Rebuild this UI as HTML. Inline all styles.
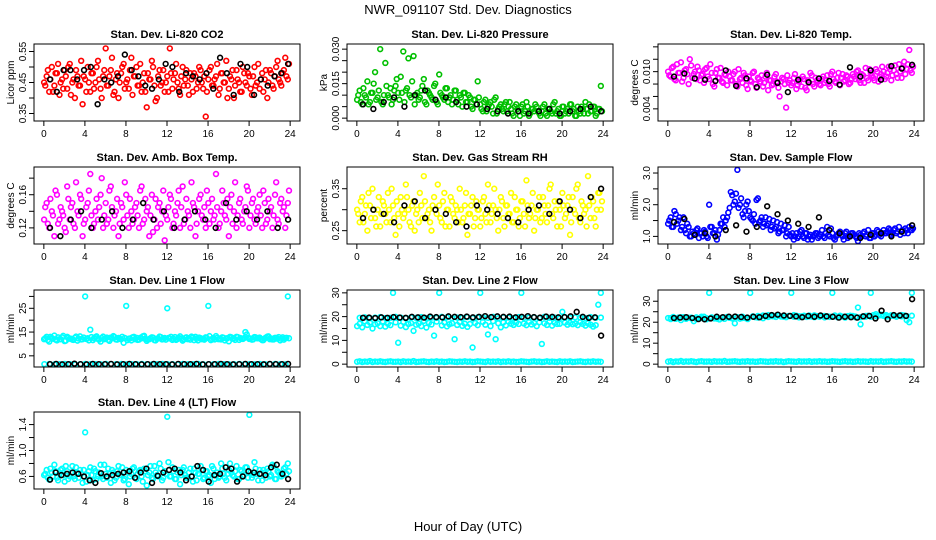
<!DOCTYPE html>
<html><head><meta charset="utf-8"><style>
body{margin:0;background:#fff;}
svg{display:block;font-family:"Liberation Sans",Arial,sans-serif;}
</style></head><body>
<svg id="c" width="936" height="540" viewBox="0 0 936 540">
<text x="468" y="14" text-anchor="middle" font-size="13">NWR_091107  Std. Dev. Diagnostics</text>
<text x="468" y="531" text-anchor="middle" font-size="13">Hour of Day (UTC)</text>
</svg>
<script>
const xTicks=[0,4,8,12,16,20,24];
const co2Color=[0.45,0.47,0.42,0.50,0.44,0.48,0.41,0.46,0.49,0.43,0.51,0.45,0.40,0.47,0.44,0.38,0.46,0.50,0.42,0.48,0.45,0.52,0.43,0.47,0.56,0.44,0.49,0.41,0.46,0.40,0.48,0.51,0.45,0.43,0.53,0.47,0.50,0.44,0.42,0.48,0.37,0.46,0.52,0.44,0.40,0.49,0.45,0.42,0.47,0.56,0.43,0.48,0.45,0.41,0.50,0.46,0.44,0.48,0.42,0.47,0.45,0.49,0.43,0.34,0.46,0.50,0.44,0.47,0.41,0.48,0.45,0.52,0.43,0.46,0.40,0.49,0.45,0.42,0.48,0.44,0.47,0.41,0.50,0.45,0.43,0.48,0.46,0.40,0.49,0.44,0.47,0.52,0.45,0.48,0.53,0.46];
const co2ColorB=[0.44,0.49,0.46,0.42,0.48,0.51,0.45,0.43,0.47,0.50,0.41,0.46,0.49,0.44,0.52,0.47,0.42,0.45,0.48,0.43,0.50,0.46,0.40,0.49,0.44,0.47,0.53,0.42,0.48,0.45,0.50,0.43,0.46,0.49,0.41,0.47,0.44,0.51,0.45,0.42,0.48,0.46,0.50,0.39,0.47,0.44,0.49,0.45,0.42,0.48,0.46,0.51,0.43,0.47,0.44,0.49,0.41,0.46,0.48,0.43,0.50,0.45,0.47,0.42,0.49,0.44,0.46,0.51,0.43,0.48,0.45,0.40,0.47,0.49,0.44,0.46,0.42,0.50,0.45,0.48,0.43,0.47,0.44,0.51,0.46,0.42,0.49,0.45,0.48,0.43,0.50,0.46,0.44,0.49,0.47,0.51];
const co2Black=[0.46,0.42,0.49,0.49,0.46,0.49,0.50,0.38,0.46,0.45,0.47,0.54,0.49,0.47,0.44,0.43,0.46,0.51,0.50,0.42,0.48,0.47,0.46,0.48,0.43,0.53,0.48,0.41,0.51,0.50,0.41,0.46,0.44,0.47,0.48,0.51];
const presColor=[.008,.012,.006,.010,.016,.007,.011,.020,.009,.030,.006,.024,.010,.013,.008,.014,.011,.018,.029,.012,.026,.009,.027,.010,.008,.012,.017,.006,.011,.009,.014,.007,.019,.010,.008,.013,.009,.006,.012,.008,.010,.005,.011,.007,.009,.004,.008,.016,.006,.003,.008,.005,.007,.002,.009,.004,.006,.003,.007,.005,.004,.001,.006,.003,.005,.002,.007,.001,.004,.003,.005,.002,.003,.006,.001,.004,.002,.007,.003,.001,.005,.002,.004,.006,.003,.001,.005,.002,.004,.007,.002,.003,.005,.001,.004,.014];
const presColorB=[.010,.007,.013,.009,.006,.011,.015,.008,.012,.007,.010,.014,.009,.006,.012,.017,.008,.011,.007,.013,.010,.016,.006,.011,.009,.014,.007,.012,.010,.008,.015,.006,.011,.009,.013,.007,.010,.008,.012,.006,.009,.011,.007,.010,.005,.008,.006,.009,.004,.007,.003,.006,.005,.008,.002,.005,.004,.006,.003,.007,.002,.005,.004,.001,.006,.003,.005,.002,.004,.006,.003,.001,.005,.002,.004,.003,.006,.002,.004,.001,.005,.003,.002,.006,.004,.001,.003,.005,.002,.004,.006,.003,.005,.002,.004,.003];
const presBlack=[.006,.004,.007,.009,.005,.010,.012,.008,.009,.007,.005,.006,.004,.003,.002,.003,.002,.003,.004,.002,.003,.004,.005,.003];
const tempColor=[.0100,.0092,.0108,.0086,.0098,.0115,.0090,.0104,.0080,.0110,.0096,.0088,.0102,.0094,.0082,.0106,.0088,.0098,.0076,.0104,.0090,.0084,.0096,.0078,.0092,.0086,.0100,.0076,.0088,.0082,.0094,.0072,.0086,.0098,.0080,.0090,.0084,.0076,.0092,.0070,.0086,.0080,.0096,.0074,.0084,.0088,.0042,.0082,.0078,.0090,.0072,.0084,.0076,.0088,.0070,.0082,.0094,.0076,.0086,.0080,.0088,.0082,.0094,.0076,.0100,.0084,.0090,.0078,.0096,.0086,.0092,.0082,.0096,.0088,.0102,.0082,.0094,.0106,.0086,.0098,.0090,.0104,.0084,.0096,.0100,.0092,.0108,.0086,.0102,.0096,.0112,.0090,.0116,.0104,.0135,.0098];
const tempColorB=[.0094,.0106,.0088,.0112,.0098,.0084,.0102,.0096,.0120,.0090,.0100,.0108,.0086,.0096,.0104,.0092,.0112,.0080,.0098,.0090,.0106,.0082,.0094,.0100,.0086,.0096,.0080,.0104,.0090,.0098,.0078,.0092,.0084,.0100,.0074,.0088,.0094,.0082,.0098,.0086,.0078,.0092,.0084,.0060,.0090,.0080,.0094,.0086,.0082,.0096,.0078,.0088,.0092,.0074,.0086,.0098,.0080,.0090,.0084,.0078,.0092,.0086,.0080,.0096,.0088,.0082,.0098,.0090,.0084,.0094,.0080,.0088,.0092,.0100,.0086,.0096,.0082,.0090,.0104,.0094,.0086,.0100,.0092,.0108,.0088,.0098,.0104,.0094,.0110,.0090,.0100,.0106,.0096,.0112,.0102,.0108];
const tempBlack=[.0092,.0097,.0089,.0087,.0085,.0102,.0077,.0089,.0075,.0095,.0082,.0067,.0087,.0083,.0089,.0085,.0079,.0107,.0092,.0102,.0087,.0109,.0105,.0111];
const ambColor=[.13,.15,.12,.14,.11,.16,.13,.14,.12,.17,.13,.15,.12,.14,.16,.11,.13,.15,.185,.12,.14,.13,.16,.12,.15,.13,.17,.12,.14,.11,.15,.13,.16,.12,.14,.13,.15,.12,.17,.13,.14,.11,.16,.13,.12,.15,.14,.105,.13,.16,.12,.14,.15,.12,.17,.13,.14,.12,.15,.11,.14,.16,.13,.12,.15,.14,.13,.185,.12,.14,.15,.13,.11,.16,.14,.12,.15,.13,.14,.17,.12,.15,.13,.14,.16,.12,.15,.13,.14,.12,.16,.13,.15,.14,.12,.15];
const ambColorB=[.145,.125,.155,.135,.165,.125,.145,.135,.115,.155,.145,.125,.175,.135,.155,.125,.145,.165,.135,.125,.155,.145,.18,.135,.125,.165,.145,.135,.155,.125,.145,.175,.135,.155,.125,.145,.135,.165,.125,.155,.145,.135,.115,.155,.145,.125,.165,.135,.145,.155,.125,.135,.165,.145,.125,.155,.135,.175,.145,.125,.155,.135,.145,.165,.125,.155,.135,.145,.125,.165,.135,.155,.145,.125,.175,.135,.155,.125,.145,.165,.135,.155,.125,.145,.135,.165,.125,.155,.145,.135,.175,.125,.155,.145,.135,.165];
const ambBlack=[.12,.11,.13,.14,.12,.13,.14,.12,.13,.15,.13,.14,.12,.13,.14,.13,.12,.15,.13,.14,.13,.14,.12,.13];
const rhColor=[.30,.27,.33,.29,.25,.31,.35,.28,.30,.26,.32,.29,.34,.27,.31,.24,.29,.33,.28,.36,.30,.26,.32,.29,.27,.31,.38,.28,.30,.25,.33,.29,.31,.27,.34,.30,.26,.32,.28,.30,.35,.27,.31,.24,.29,.33,.28,.30,.26,.32,.29,.36,.27,.31,.30,.25,.33,.28,.31,.29,.34,.27,.30,.26,.32,.29,.37,.28,.31,.25,.30,.33,.28,.31,.27,.35,.29,.32,.26,.30,.34,.28,.31,.24,.33,.29,.36,.27,.31,.30,.38,.28,.32,.26,.34,.30];
const rhColorB=[.29,.32,.27,.31,.34,.28,.30,.26,.33,.29,.31,.27,.30,.35,.28,.32,.26,.30,.29,.33,.27,.31,.25,.30,.34,.28,.32,.29,.27,.31,.30,.36,.28,.32,.26,.30,.33,.29,.31,.27,.30,.28,.34,.29,.31,.26,.32,.30,.28,.33,.27,.31,.29,.35,.28,.30,.32,.26,.31,.29,.27,.33,.30,.28,.32,.26,.31,.29,.34,.28,.30,.27,.33,.29,.31,.36,.28,.30,.32,.26,.31,.29,.33,.27,.30,.35,.28,.32,.29,.26,.31,.33,.28,.30,.34,.32];
const rhBlack=[.28,.30,.29,.27,.31,.32,.28,.30,.29,.27,.26,.31,.30,.29,.28,.27,.30,.31,.29,.32,.30,.28,.33,.35];
const flowColor=[1.4,1.6,1.3,1.7,1.5,1.2,1.6,1.1,1.3,1.0,1.1,1.2,0.95,1.1,1.2,1.0,2.0,1.3,1.1,0.9,1.2,1.4,1.3,1.6,1.9,2.3,2.1,3.1,2.0,1.7,1.8,2.1,1.6,1.5,1.4,2.2,1.5,1.3,1.6,1.4,1.2,1.5,1.3,1.1,1.4,1.2,1.0,1.3,1.0,0.9,1.1,1.0,1.2,0.95,1.1,1.0,0.9,1.05,1.1,1.0,1.2,0.95,1.3,1.0,1.1,0.9,1.05,1.15,1.0,1.1,0.95,1.0,1.1,1.0,0.85,1.05,1.1,1.0,1.2,0.95,1.1,1.05,1.15,1.0,1.2,1.1,1.25,1.05,1.2,1.1,1.3,1.15,1.1,1.2,1.3,1.2];
const flowColorB=[1.5,1.3,1.8,1.4,1.6,1.3,1.2,1.4,1.0,1.15,1.05,1.25,1.1,1.0,1.15,0.95,1.3,1.1,1.2,1.05,1.4,1.6,1.5,1.75,2.4,2.0,2.35,1.9,2.2,1.6,2.0,1.8,1.55,1.7,2.15,1.45,1.6,1.4,1.35,1.55,1.3,1.25,1.45,1.15,1.2,1.35,1.1,1.05,1.1,1.0,0.95,1.15,1.0,1.1,0.9,1.05,1.0,1.1,0.95,1.05,1.0,1.1,1.05,1.25,0.95,1.0,1.1,1.05,0.9,1.15,1.0,1.1,1.05,0.95,1.1,1.0,1.15,1.05,0.95,1.1,1.0,1.2,1.05,1.1,1.1,1.15,1.2,1.1,1.25,1.15,1.05,1.2,1.25,1.1,1.2,1.25];
const flowBlack=[1.45,1.55,1.05,1.1,1.0,1.2,1.35,1.15,1.3,1.95,1.7,1.5,1.4,1.3,1.6,1.2,1.1,1.0,0.95,1.05,1.1,1.0,1.15,1.35];
const l1Color=[12,13,11,12.5,13.5,11.5,12,12.8,11.2,13,12.2,11.8,12.6,11.4,13.2,12,30,12.4,16,11.6,12.9,12.1,11,13.1,12.3,11.7,12.7,13.3,11.9,12.5,12,10.5,26,12.2,11.5,13,12.6,11.8,12.4,13.4,11.3,12,12.8,11.6,12.2,13.1,11.9,12.5,25,12.3,11.7,12.9,12.1,13.2,11.4,12.6,12,11.8,12.7,13,11.5,12.4,12.2,12.8,26,11.6,12.5,13.3,12,11.9,12.6,12.3,11.1,12.8,12.4,13,11.7,12.2,12.5,14,12.1,11.8,12.9,12.4,12.7,11.6,12.3,13.1,12,11.9,12.6,12.2,11.5,12.8,12.4,30];
const l1ColorB=[12.4,11.6,13,12.2,11.8,12.8,12,13.4,11.4,12.6,12.2,11.7,13.1,12.3,11.9,12.7,12.1,11.5,12.9,12.4,13.2,11.8,12.5,12,12.7,11.3,12.4,12.9,11.8,12.2,13,12.5,11.6,12.3,12.8,12,11.7,12.6,13.2,12.1,11.9,12.4,12.7,11.5,12.3,12.9,12.1,11.8,12.5,13,12.2,11.7,12.6,12.3,11.9,12.8,12.4,13.1,11.6,12.2,12.7,12,11.8,12.5,13.3,12.1,11.9,12.6,12.3,12.8,11.5,12.4,13,12.2,11.7,12.9,12.5,12.1,15,12.6,12.3,11.9,12.8,12.4,12.1,11.6,12.7,13.2,12.3,11.9,12.5,12.9,12.2,11.8,12.6,12.4];
const l1Low=[1.5,1.6,1.4,1.5,1.6,1.5,1.4,1.5,1.6,1.5,1.5,1.4,1.6,1.5,1.5,1.6,1.4,1.5,1.5,1.6,1.5,1.4,1.5,1.6,1.5,1.5,1.4,1.6,1.5,1.5,1.6,1.4,1.5,1.5,1.6,1.5,1.4,1.5,1.6,1.5,1.5,1.4,1.6,1.5,1.5,1.6,1.5,1.4];
const l1Black=[1.5,1.6,1.4,1.5,1.7,1.5,1.4,1.6,1.5,1.5,1.6,1.4,1.5,1.6,1.5,1.4,1.5,1.6,1.5,1.5,1.4,1.6,1.5,1.5,1.6,1.4,1.5,1.5,1.6,1.5,1.4,1.5,1.6,1.5,1.5,1.4,1.6,1.5,1.5,1.6];
const l2Color=[16,17,15.5,18,16.5,17.5,15,16.8,17.2,16,18,15.8,17,16.4,30,17.6,9,16.2,17.8,15.6,16.9,17.3,14,16.6,17.1,16,18.2,15.4,17.4,16.7,12,17.9,30,16.3,17.5,15.9,16.8,17.2,10.5,16.5,17.7,16.1,17,15.7,16.9,7,17.3,16.4,30,17.8,16.6,12.5,16,18.1,10.5,17.2,15.5,17.6,16.3,17.9,17,16.5,17.5,16.9,30,17.1,16.4,17.8,16.7,17.3,16,17.6,8.5,17.2,16.5,17.9,16.2,17.4,16.9,17,22,17.5,16.6,17.3,16.8,17.1,16.4,17.7,16.9,16.2,17.2,16.6,15.8,16.4,25,30];
const l2ColorB=[19.5,19.7,19.3,19.6,19.8,19.4,19.5,19.9,19.6,19.3,19.7,19.5,19.8,19.4,19.6,19.5,19.9,19.7,19.3,19.6,19.5,19.8,19.4,19.7,19.6,19.5,19.9,19.3,19.7,19.6,19.4,19.8,19.5,19.6,19.7,19.4,19.9,19.5,19.6,19.3,19.8,19.5,19.7,19.6,19.4,19.8,19.5,19.6];
const l2Low=[1,1.2,0.9,1.1,1,1.3,0.9,1.1,1,1.2,1,0.9,1.1,1.2,1,1,1.1,0.9,1.2,1,1.1,1,1.3,0.9,1,1.1,1.2,1,0.9,1.1,1,1.2,1,1.1,0.9,1,1.2,1.1,1,0.9,1.1,1,1.2,1,1.1,0.9,1,1.2,1.1,1,0.9,1.2,1,1.1,1,1.2,0.9,1.1,1,1.2,1,1.1,0.9,1,1.2,1.1,1,0.9,1.1,1.2,1,1.1,0.9,1,1.2,1,1.1,1,0.9,1.2,1,1.1,1,1.2,0.9,1,1.1,1.2,1,0.9,1.1,1,1.2,1,1.1,1];
const l2Black=[19.5,19.6,19.4,19.7,19.5,19.8,19.6,19.5,19.9,19.7,19.6,20,19.8,19.7,20.1,19.9,19.8,20,19.7,19.9,20.2,19.8,20.1,19.9,20,19.7,19.9,20.2,19.8,19.6,20,19.9,19.7,19.8,20.1,22,19.9,19.5,19.7,12];
const l3Color=[22,21.5,22.5,21.8,22.2,21,22.4,21.6,22.1,21.9,20.5,22.3,21.7,22,22.6,21.4,34,22.2,21.8,22.5,21.3,22,21.6,22.4,22.1,21.9,19.5,22.3,21.7,22.6,22,21.5,34,22.8,22.4,23,22.6,23.2,22.8,23.4,22.9,23.1,22.5,23.3,22.7,23,22.4,22.9,34,22.6,23.1,22.3,22.8,23,22.5,23.2,22.7,22.4,22.9,22.6,23,22.3,22.8,22.5,34,22.9,22.4,23.1,22.7,22.2,22.9,22.6,23,22.4,27,19,22.8,22.6,23.1,34,23.4,23.8,23.2,23.6,23,23.4,22.8,23.3,23,22.6,23.1,22.8,23.2,21,20,34];
const l3ColorB=[22,21.6,22.4,21.8,22.2,21.5,22.6,21.9,22.3,21.7,22.1,22.5,21.8,22.4,22,21.6,22.7,22.2,21.9,22.5,22.8,23.2,22.6,23,23.4,22.8,23.1,22.7,23.3,22.9,23,22.6,23.2,22.8,22.5,23.1,22.7,22.4,23,22.6,22.9,23.3,22.7,23,22.8,23.4,22.9,23.1];
const l3Low=[1.2,1.4,1,1.3,1.2,1.5,1.1,1.3,1.2,1.4,1.2,1,1.3,1.4,1.2,1.2,1.3,1.1,1.4,1.2,1.3,1.2,1.5,1.1,1.2,1.3,1.4,1.2,1.1,1.3,1.2,1.4,1.2,1.3,1.1,1.2,1.4,1.3,1.2,1.1,1.3,1.2,1.4,1.2,1.3,1,1.2,1.4,1.3,1.2,1.1,1.4,1.2,1.3,1.2,1.4,1.1,1.3,1.2,1.4,1.2,1.3,1.1,1.2,1.4,1.3,1.2,1.1,1.3,1.4,1.2,1.3,1.1,1.2,1.4,1.2,1.3,1.2,1.1,1.4,1.2,1.3,1.2,1.4,1.1,1.2,1.3,1.4,1.2,1.1,1.3,1.2,1.4,1.2,1.3,1.2];
const l3Black=[22,22.2,22.4,22,21.5,21.4,21.8,22.6,22.4,22.6,22.7,22.5,22.2,22.6,22.4,23,23.4,23.6,23.2,23,22.8,22.4,23,22.6,23.2,22.8,22.6,22.2,22.6,22.4,22.2,22.8,23,21.8,25.5,21.4,23.4,23.2,23,31];
const l4Color=[0.62,0.70,0.55,0.66,0.78,0.58,0.64,0.72,0.52,0.68,0.60,0.76,0.56,0.66,0.70,0.50,1.28,0.62,0.74,0.54,0.68,0.60,0.78,0.56,0.64,0.72,0.50,0.66,0.58,0.76,0.62,0.54,0.70,0.48,0.64,0.74,0.56,0.68,0.60,0.72,0.46,0.66,0.58,0.76,0.62,0.80,0.54,0.68,1.52,0.60,0.74,0.56,0.66,0.48,0.70,0.62,0.58,0.72,0.52,0.66,0.64,0.76,0.56,0.68,0.60,0.50,0.72,0.62,0.58,0.80,0.64,0.54,0.70,0.66,0.60,0.76,0.56,0.68,0.62,0.74,1.55,0.58,0.82,0.64,0.70,0.54,0.66,0.72,0.60,0.78,0.56,0.68,0.64,0.62,0.74,0.80];
const l4ColorB=[0.64,0.58,0.72,0.60,0.68,0.54,0.70,0.62,0.76,0.56,0.66,0.60,0.74,0.58,0.64,0.70,0.52,0.68,0.62,0.72,0.56,0.66,0.60,0.78,0.58,0.64,0.70,0.54,0.68,0.62,0.74,0.56,0.66,0.60,0.72,0.58,0.64,0.70,0.52,0.68,0.62,0.76,0.56,0.66,0.60,0.72,0.58,0.64,0.82,0.60,0.68,0.56,0.70,0.62,0.74,0.58,0.66,0.60,0.72,0.54,0.64,0.70,0.58,0.68,0.62,0.76,0.56,0.66,0.60,0.72,0.58,0.64,0.80,0.62,0.68,0.56,0.70,0.60,0.74,0.58,0.66,0.62,0.72,0.54,0.64,0.70,0.58,0.68,0.62,0.76,0.56,0.66,0.60,0.72,0.64,0.68];
const l4Black=[0.55,0.66,0.62,0.64,0.66,0.64,0.60,0.54,0.50,0.65,0.60,0.62,0.64,0.66,0.68,0.58,0.66,0.72,0.50,0.61,0.66,0.70,0.72,0.66,0.54,0.60,0.76,0.70,0.52,0.62,0.64,0.74,0.72,0.52,0.60,0.68,0.66,0.64,0.62,0.74,0.78,0.64,0.56];

const svg=document.getElementById('c');
const NS='http://www.w3.org/2000/svg';
function mk(tag,attrs,parent){const e=document.createElementNS(NS,tag);for(const k in attrs)e.setAttribute(k,attrs[k]);(parent||svg).appendChild(e);return e;}
const colL=[34,347,658],rowT=[44,167,290,412],W=266,H=77;
const panels=[
 {t:'Stan. Dev. Li-820 CO2',yl:'Licor ppm',c:'#ff0000',d:[co2Color,co2ColorB],b:co2Black,lo:0.335,hi:0.565,ticks:[0.35,0.40,0.45,0.50,0.55],labs:['0.35','','0.45','','0.55']},
 {t:'Stan. Dev. Li-820 Pressure',yl:'kPa',c:'#00c000',d:[presColor,presColorB],b:presBlack,lo:0,hi:0.031,ticks:[0,.005,.010,.015,.020,.025,.030],labs:['0.000','','','0.015','','','0.030']},
 {t:'Stan. Dev. Li-820 Temp.',yl:'degrees C',c:'#ff00ff',d:[tempColor,tempColorB],b:tempBlack,lo:0.0025,hi:0.014,ticks:[.004,.006,.008,.010,.012,.014],labs:['0.004','','','0.010','','']},
 {t:'Stan. Dev. Amb. Box Temp.',yl:'degrees C',c:'#ff00ff',d:[ambColor,ambColorB],b:ambBlack,lo:0.104,hi:0.19,ticks:[.12,.14,.16,.18],labs:['0.12','','0.16','']},
 {t:'Stan. Dev. Gas Stream RH',yl:'percent',c:'#ffff00',d:[rhColor,rhColorB],b:rhBlack,lo:0.225,hi:0.395,ticks:[.25,.30,.35],labs:['0.25','','0.35']},
 {t:'Stan. Dev. Sample Flow',yl:'ml/min',c:'#0000ff',d:[flowColor,flowColorB],b:flowBlack,lo:0.85,hi:3.1,ticks:[1,1.5,2,2.5,3],labs:['1.0','','2.0','','3.0']},
 {t:'Stan. Dev. Line 1 Flow',yl:'ml/min',c:'#00ffff',d:[l1Color,l1ColorB,l1Low],b:l1Black,lo:1.5,hi:31.5,ticks:[5,10,15,20,25,30],labs:['5','','15','','25','']},
 {t:'Stan. Dev. Line 2 Flow',yl:'ml/min',c:'#00ffff',d:[l2Color,l2ColorB,l2Low],b:l2Black,lo:0,hi:30,ticks:[0,5,10,15,20,25,30],labs:['0','','10','','20','','30']},
 {t:'Stan. Dev. Line 3 Flow',yl:'ml/min',c:'#00ffff',d:[l3Color,l3ColorB,l3Low],b:l3Black,lo:0,hi:34,ticks:[0,5,10,15,20,25,30],labs:['0','','10','','20','','30']},
 {t:'Stan. Dev. Line 4 (LT) Flow',yl:'ml/min',c:'#00ffff',d:[l4Color,l4ColorB],b:l4Black,lo:0.45,hi:1.55,ticks:[.6,.8,1.0,1.2,1.4],labs:['0.6','','1.0','','1.4']}
];
panels.forEach((p,i)=>{
 const L=colL[i%3],T=rowT[Math.floor(i/3)];
 const g=mk('g',{});
 
 
 const xs=v=>L+W*(v+0.96)/25.92;
 const r=p.hi-p.lo,y0=p.lo-0.04*r,y1=p.hi+0.04*r;
 const ys=v=>T+H-H*(v-y0)/(y1-y0);
 const tt=mk('text',{x:L+W/2,y:T-6,'text-anchor':'middle','font-size':11,'font-weight':'bold'},g);tt.textContent=p.t;
 
 
 const yt=mk('text',{x:0,y:0,'text-anchor':'middle','font-size':10,transform:`translate(${L-20},${T+H/2}) rotate(-90)`},g);yt.textContent=p.yl;
 
 
 const pts=mk('g',{fill:'none','stroke-width':1.6},g);
 
 
 p.d.forEach((arr,ai)=>{arr.forEach((v,j)=>{
   const c=mk('circle',{cx:xs((j+(ai%2?0.55:0.1))*24/arr.length),cy:ys(v),r:2.4,stroke:p.c},pts);
   
   
 });});
 p.b.forEach((v,j)=>{
   const c=mk('circle',{cx:xs(0.6+j*23.2/(p.b.length-1)),cy:ys(v),r:2.4,stroke:'#000'},pts);
   
   
 });
 const box=mk('rect',{x:L,y:T,width:W,height:H,fill:'none',stroke:'#000','stroke-width':1},g);
 
 
 xTicks.forEach(t=>{
   mk('line',{x1:xs(t),x2:xs(t),y1:T+H,y2:T+H+5,stroke:'#000'},g);
   const tx=mk('text',{x:xs(t),y:T+H+16,'text-anchor':'middle','font-size':10},g);tx.textContent=t;
   
   
 });
 p.ticks.forEach((t,k)=>{
   mk('line',{x1:L-5,x2:L,y1:ys(t),y2:ys(t),stroke:'#000'},g);
   if(p.labs[k]){const tx=mk('text',{x:0,y:0,'text-anchor':'middle','font-size':10,transform:`translate(${L-8},${ys(t)}) rotate(-90)`},g);tx.textContent=p.labs[k];
   
   }
 });
});
</script>
</body></html>
